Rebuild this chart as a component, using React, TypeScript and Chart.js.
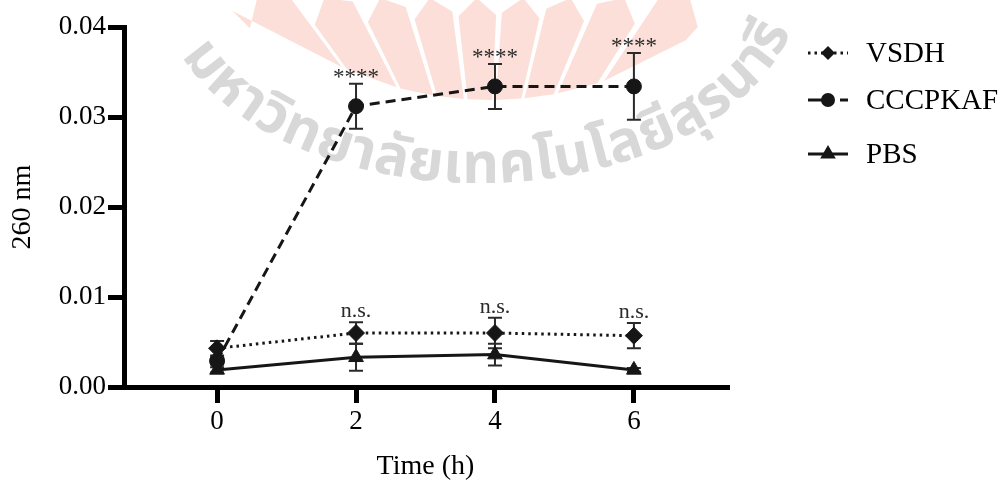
import React, { useEffect, useRef } from 'react';
import { Chart, registerables } from 'chart.js';
import { drawPoint } from 'chart.js/helpers';

Chart.register(...registerables);

// ---------- data ----------
const times = [0, 2, 4, 6];
const xTicks = [0, 2, 4, 6];
const yTicks = [0, 0.01, 0.02, 0.03, 0.04];
const seriesLabels = ['VSDH', 'CCCPKAF', 'PBS'];
const vsdhMean = [0.0043, 0.006, 0.006, 0.0057];
const vsdhSd = [0.0008, 0.0012, 0.0017, 0.0014];
const cccpkafMean = [0.0029, 0.0312, 0.0334, 0.0334];
const cccpkafSd = [0.0004, 0.0025, 0.0025, 0.0037];
const pbsMean = [0.0019, 0.0033, 0.0036, 0.0019];
const pbsSd = [0.0003, 0.0015, 0.0012, 0.0002];
const vsdhSig = ['', 'n.s.', 'n.s.', 'n.s.'];
const cccpkafSig = ['', '****', '****', '****'];
const xTitle = 'Time (h)';
const yTitle = '260 nm';
const watermarkText = 'มหาวิทยาลัยเทคโนโลยีสุรนารี';

const SERIF = "'Liberation Serif', 'Times New Roman', Times, serif";
const THAI = "'Noto Sans Thai', 'Noto Sans Thai Looped', 'Loma', 'Garuda', 'Kinnari', 'Norasi', 'Tlwg Typo', 'Noto Sans', sans-serif";
const INK = '#161616';

// decorative watermark: ray angles (deg) of the logo fan
const petalAngles = [-41, -31.5, -21.8, -11.9, -1.8, 8.3, 18.1, 28, 38];

function drawWatermark(ctx: CanvasRenderingContext2D) {
  ctx.save();
  ctx.fillStyle = '#fcdfd8';
  const Cx = 485, Cy = 260; // fan origin
  const Kx = 490, Ky = -250, KR = 350; // cut circle
  const rIn = (th: number) => {
    const ux = Math.sin(th), uy = -Math.cos(th);
    const dx = Cx - Kx, dy = Cy - Ky;
    const b = dx * ux + dy * uy;
    const c = dx * dx + dy * dy - KR * KR;
    return -b - Math.sqrt(Math.max(0, b * b - c));
  };
  const P = (th: number, r: number) => [Cx + r * Math.sin(th), Cy - r * Math.cos(th)];
  const hw = (4.4 * Math.PI) / 180;
  for (const deg of petalAngles) {
    const t = (deg * Math.PI) / 180;
    const rTip = (Cy + 2) / Math.cos(t);
    const rSh = rTip - 17;
    const pts = [P(t - hw, rIn(t - hw)), P(t + hw, rIn(t + hw)), P(t + hw, rSh), P(t, rTip), P(t - hw, rSh)];
    ctx.beginPath();
    pts.forEach(([x, y], i) => (i ? ctx.lineTo(x, y) : ctx.moveTo(x, y)));
    ctx.closePath();
    ctx.fill();
  }
  // text along an elliptical arc
  const combining = /[\u0E31\u0E34-\u0E3A\u0E47-\u0E4E]/;
  const clusters: string[] = [];
  for (const ch of Array.from(watermarkText)) {
    if (combining.test(ch) && clusters.length) clusters[clusters.length - 1] += ch;
    else clusters.push(ch);
  }
  ctx.font = `bold 57px ${THAI}`;
  ctx.fillStyle = '#d8d8d8';
  ctx.textAlign = 'center';
  ctx.textBaseline = 'alphabetic';
  const widths = clusters.map((c) => ctx.measureText(c).width);
  const total = widths.reduce((a, b) => a + b, 0);
  const ex = 480, ey = -17, ea = 320, eb = 200;
  const f0 = -1.2, f1 = 1.33;
  const N = 2000;
  const cum: number[] = [0];
  const phis: number[] = [f0];
  for (let k = 1; k <= N; k++) {
    const p0 = f0 + ((f1 - f0) * (k - 1)) / N;
    const p1 = f0 + ((f1 - f0) * k) / N;
    const dx = ea * (Math.sin(p1) - Math.sin(p0));
    const dy = eb * (Math.cos(p1) - Math.cos(p0));
    cum.push(cum[k - 1] + Math.hypot(dx, dy));
    phis.push(p1);
  }
  const L = cum[N];
  const phiAt = (s: number) => {
    let k = 0;
    while (k < N && cum[k + 1] < s) k++;
    return phis[k];
  };
  let acc = 0;
  clusters.forEach((c, i) => {
    const sMid = ((acc + widths[i] / 2) / total) * L;
    const f = phiAt(sMid);
    const x = ex + ea * Math.sin(f);
    const y = ey + eb * Math.cos(f);
    const rot = Math.atan2(-eb * Math.sin(f), ea * Math.cos(f));
    ctx.save();
    ctx.translate(x, y);
    ctx.rotate(rot);
    ctx.fillText(c, 0, 0);
    ctx.restore();
    acc += widths[i];
  });
  ctx.restore();
}

const watermarkPlugin = {
  id: 'watermark',
  beforeDraw(chart: any) {
    drawWatermark(chart.ctx);
  },
};

const errorBarPlugin = {
  id: 'errorBars',
  beforeDatasetsDraw(chart: any) {
    const { ctx, scales } = chart;
    ctx.save();
    ctx.strokeStyle = '#2a2a2a';
    ctx.lineWidth = 2;
    chart.data.datasets.forEach((ds: any) => {
      ds.data.forEach((p: any, i: number) => {
        const sd = ds.sd[i];
        if (!sd) return;
        const x = scales.x.getPixelForValue(p.x);
        const yTop = scales.y.getPixelForValue(p.y + sd);
        const yBot = scales.y.getPixelForValue(p.y - sd);
        ctx.beginPath();
        ctx.moveTo(x, yTop);
        ctx.lineTo(x, yBot);
        ctx.moveTo(x - 7, yTop);
        ctx.lineTo(x + 7, yTop);
        ctx.moveTo(x - 7, yBot);
        ctx.lineTo(x + 7, yBot);
        ctx.stroke();
      });
    });
    ctx.restore();
  },
  afterDatasetsDraw(chart: any) {
    const { ctx, scales } = chart;
    ctx.save();
    ctx.fillStyle = '#2a2a2a';
    ctx.textAlign = 'center';
    ctx.textBaseline = 'alphabetic';
    chart.data.datasets.forEach((ds: any) => {
      ctx.font = `${ds.sigSize}px ${SERIF}`;
      ds.data.forEach((p: any, i: number) => {
        const s = ds.sig[i];
        if (!s) return;
        const x = scales.x.getPixelForValue(p.x);
        const yTop = scales.y.getPixelForValue(p.y + ds.sd[i]);
        ctx.fillText(s, x, yTop - ds.sigGap);
      });
    });
    ctx.restore();
  },
};

const legendRows = [53, 100, 154];
const legendPlugin = {
  id: 'customLegend',
  afterDraw(chart: any) {
    const { ctx } = chart;
    ctx.save();
    chart.data.datasets.forEach((ds: any, i: number) => {
      const y = legendRows[i];
      ctx.strokeStyle = INK;
      ctx.fillStyle = INK;
      ctx.lineWidth = ds.borderWidth;
      ctx.setLineDash(ds.legendDash);
      ctx.beginPath();
      ctx.moveTo(808, y);
      ctx.lineTo(848, y);
      ctx.stroke();
      ctx.setLineDash([]);
      drawPoint(ctx, { pointStyle: ds.pointStyle, radius: ds.legendRadius, rotation: 0, borderWidth: 0 } as any, 828, y);
      ctx.font = `29px ${SERIF}`;
      ctx.fillStyle = '#000';
      ctx.textAlign = 'left';
      ctx.textBaseline = 'middle';
      ctx.fillText(ds.label, 866, y + 1);
    });
    ctx.restore();
  },
};

function pts(means: number[]) {
  return times.map((t, i) => ({ x: t, y: means[i] }));
}

export default function App() {
  const ref = useRef<HTMLCanvasElement>(null);
  useEffect(() => {
    const common = {
      borderColor: INK,
      backgroundColor: INK,
      pointBackgroundColor: INK,
      pointBorderColor: INK,
      pointBorderWidth: 1,
      borderWidth: 3,
      tension: 0,
      fill: false,
    };
    const chart = new Chart(ref.current as HTMLCanvasElement, {
      type: 'line',
      data: {
        datasets: [
          {
            ...common,
            label: seriesLabels[0],
            data: pts(vsdhMean),
            borderDash: [2.5, 4],
            pointStyle: 'rectRot',
            pointRadius: 8.5,
            sd: vsdhSd,
            sig: vsdhSig,
            sigSize: 22,
            sigGap: 5,
            legendDash: [2.5, 4],
            legendRadius: 7,
          } as any,
          {
            ...common,
            label: seriesLabels[1],
            data: pts(cccpkafMean),
            borderDash: [10, 6],
            pointStyle: 'circle',
            pointRadius: 7.5,
            sd: cccpkafSd,
            sig: cccpkafSig,
            sigSize: 23,
            sigGap: 0,
            legendDash: [14, 18, 8, 10],
            legendRadius: 7,
          } as any,
          {
            ...common,
            label: seriesLabels[2],
            data: pts(pbsMean),
            pointStyle: 'triangle',
            pointRadius: 8.5,
            sd: pbsSd,
            sig: ['', '', '', ''],
            sigSize: 22,
            sigGap: 5,
            legendDash: [],
            legendRadius: 9,
          } as any,
        ],
      },
      options: {
        animation: false,
        responsive: true,
        maintainAspectRatio: false,
        layout: { padding: { top: 27, right: 276, bottom: 0, left: 0 } },
        plugins: { legend: { display: false }, tooltip: { enabled: false } },
        scales: {
          x: {
            type: 'linear',
            min: -1.34,
            max: 7.34,
            afterBuildTicks: (s: any) => {
              s.ticks = xTicks.map((v) => ({ value: v }));
            },
            afterFit: (s: any) => {
              s.height = 94;
            },
            grid: { drawOnChartArea: false, drawTicks: true, tickLength: 16, tickWidth: 5, lineWidth: 5, tickColor: '#000', color: '#000' },
            border: { display: true, width: 5, color: '#000' },
            ticks: {
              color: '#000',
              padding: 3,
              autoSkip: false,
              maxRotation: 0,
              font: { family: SERIF, size: 27 },
              callback: (v: any) => String(v),
            },
            title: { display: true, text: xTitle, color: '#000', font: { family: SERIF, size: 28, lineHeight: 1 }, padding: { top: 0, bottom: 0 } },
          },
          y: {
            type: 'linear',
            min: 0,
            max: 0.04,
            afterBuildTicks: (s: any) => {
              s.ticks = yTicks.map((v) => ({ value: v }));
            },
            afterFit: (s: any) => {
              s.width = 124;
            },
            grid: { drawOnChartArea: false, drawTicks: true, tickLength: 16, tickWidth: 5, lineWidth: 5, tickColor: '#000', color: '#000' },
            border: { display: true, width: 5, color: '#000' },
            ticks: {
              color: '#000',
              padding: 2,
              font: { family: SERIF, size: 27 },
              callback: (v: any) => Number(v).toFixed(2),
            },
            title: { display: true, text: yTitle, color: '#000', font: { family: SERIF, size: 28, lineHeight: 1 }, padding: { top: 9, bottom: 0 } },
          },
        },
      } as any,
      plugins: [watermarkPlugin, errorBarPlugin, legendPlugin],
    });
    return () => chart.destroy();
  }, []);
  return (
    <div style={{ position: 'fixed', left: 0, top: 0, width: 1003, height: 481, background: '#fff' }}>
      <canvas ref={ref} />
    </div>
  );
}
